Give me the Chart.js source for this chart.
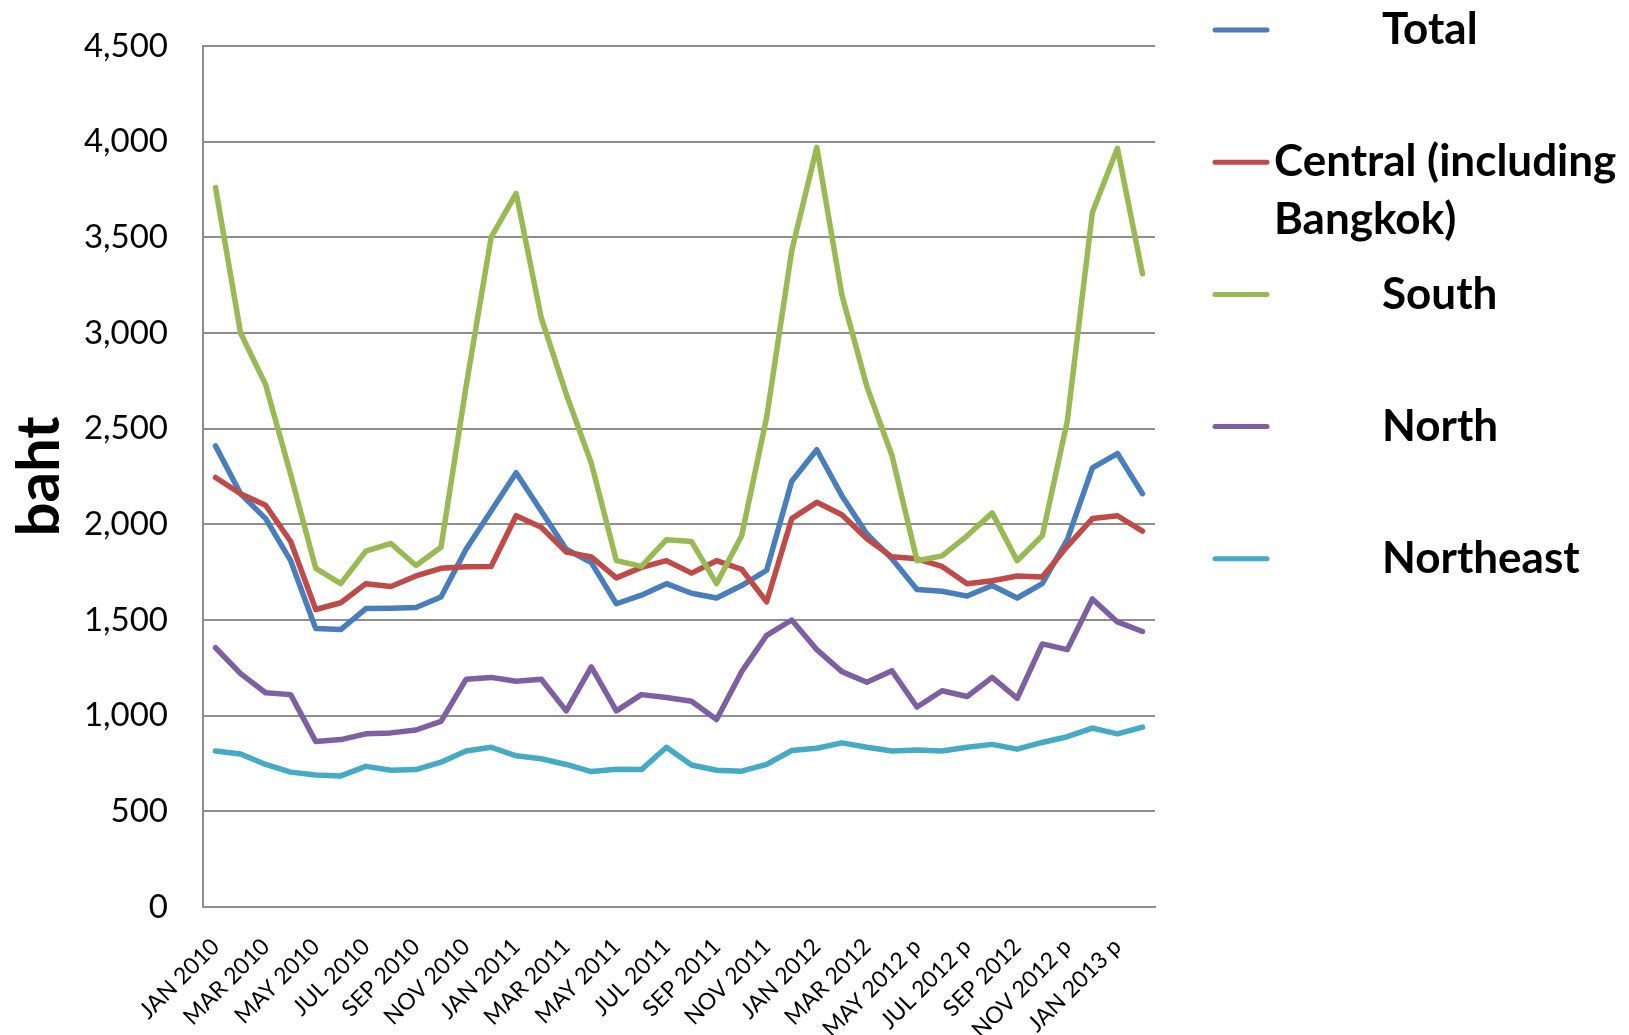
<!DOCTYPE html>
<html>
<head>
<meta charset="utf-8">
<title>Average monthly expenditure by region</title>
<script src="https://cdn.jsdelivr.net/npm/chart.js@4.4.1/dist/chart.umd.min.js"></script>
<style>
  html, body { margin: 0; padding: 0; background: #fff; }
</style>
</head>
<body>
<canvas id="bahtChart" width="1629" height="1035"></canvas>
<script>
const months = [
  'JAN 2010', 'FEB 2010', 'MAR 2010', 'APR 2010', 'MAY 2010', 'JUN 2010',
  'JUL 2010', 'AUG 2010', 'SEP 2010', 'OCT 2010', 'NOV 2010', 'DEC 2010',
  'JAN 2011', 'FEB 2011', 'MAR 2011', 'APR 2011', 'MAY 2011', 'JUN 2011',
  'JUL 2011', 'AUG 2011', 'SEP 2011', 'OCT 2011', 'NOV 2011', 'DEC 2011',
  'JAN 2012', 'FEB 2012', 'MAR 2012', 'APR 2012', 'MAY 2012 p', 'JUN 2012 p',
  'JUL 2012 p', 'AUG 2012 p', 'SEP 2012', 'OCT 2012 p', 'NOV 2012 p', 'DEC 2012 p',
  'JAN 2013 p', 'FEB 2013 p'
];

const total = [
  2410, 2160, 2030, 1810, 1455, 1450, 1560, 1562, 1565, 1620, 1870, 2070,
  2270, 2070, 1870, 1800, 1585, 1630, 1690, 1640, 1615, 1680, 1760, 2225,
  2390, 2150, 1950, 1820, 1660, 1650, 1625, 1680, 1615, 1690, 1920, 2295,
  2370, 2160
];
const central = [
  2245, 2160, 2100, 1910, 1555, 1590, 1690, 1675, 1730, 1770, 1778, 1780,
  2045, 1985, 1855, 1830, 1720, 1775, 1810, 1745, 1810, 1765, 1595, 2030,
  2115, 2050, 1925, 1830, 1820, 1780, 1690, 1705, 1730, 1725, 1885, 2030,
  2045, 1965
];
const south = [
  3760, 3000, 2730, 2260, 1770, 1690, 1860, 1900, 1785, 1880, 2720, 3500,
  3730, 3080, 2680, 2320, 1810, 1780, 1920, 1910, 1690, 1940, 2560, 3430,
  3970, 3200, 2720, 2360, 1810, 1835, 1940, 2060, 1810, 1940, 2540, 3630,
  3965, 3310
];
const north = [
  1355, 1220, 1120, 1110, 865, 875, 905, 910, 925, 970, 1190, 1200,
  1180, 1190, 1025, 1255, 1025, 1110, 1095, 1075, 980, 1230, 1420, 1500,
  1345, 1230, 1175, 1235, 1045, 1130, 1100, 1200, 1090, 1375, 1345, 1610,
  1490, 1440
];
const northeast = [
  815, 800, 745, 705, 690, 685, 735, 715, 718, 757, 815, 835,
  790, 775, 745, 708, 720, 718, 835, 742, 715, 710, 745, 818,
  830, 858, 835, 815, 820, 815, 835, 850, 825, 860, 890, 935,
  905, 940
];

const seriesNames = ['Total', 'Central (including Bangkok)', 'South', 'North', 'Northeast'];
// legend text, broken the way it wraps in the side box
const legendLines = [['Total'], ['Central (including', 'Bangkok)'], ['South'], ['North'], ['Northeast']];
const seriesColors = ['#4a7ebb', '#be4b48', '#98b954', '#7d60a0', '#46aac5'];
const seriesValues = [total, central, south, north, northeast];

const gridGray = '#8e8e8e';

// draws the legend in the blank space right of the plot
const sideLegend = {
  id: 'sideLegend',
  afterDraw(chart) {
    const ctx = chart.ctx;
    ctx.save();
    ctx.font = 'bold 44px Lato';
    ctx.textBaseline = 'middle';
    ctx.fillStyle = '#000';
    ctx.lineCap = 'round';
    chart.data.datasets.forEach((ds, i) => {
      const y = 30 + i * 132.2;
      ctx.strokeStyle = ds.borderColor;
      ctx.lineWidth = 5;
      ctx.beginPath();
      ctx.moveTo(1215, y);
      ctx.lineTo(1267, y);
      ctx.stroke();
      const lines = legendLines[i];
      const x = lines.length > 1 ? 1274 : 1382;
      lines.forEach((t, j) => ctx.fillText(t, x, y + j * 58));
    });
    ctx.restore();
  }
};

const datasets = seriesValues.map((vals, i) => ({
  label: seriesNames[i],
  data: vals,
  borderColor: seriesColors[i],
  backgroundColor: seriesColors[i],
  borderWidth: 5.5,
  pointRadius: 0,
  tension: 0,
  borderJoinStyle: 'round',
  borderCapStyle: 'round',
  order: seriesValues.length - i
}));

const ctx = document.getElementById('bahtChart').getContext('2d');
new Chart(ctx, {
  type: 'line',
  data: { labels: months, datasets: datasets },
  plugins: [sideLegend],
  options: {
    responsive: false,
    animation: false,
    layout: { padding: { left: 0, right: 474, top: 46, bottom: 0 } },
    plugins: {
      legend: { display: false },
      tooltip: { enabled: false }
    },
    scales: {
      x: {
        offset: true,
        grid: { display: false },
        border: { display: true, color: gridGray, width: 2 },
        ticks: {
          autoSkip: false,
          maxRotation: 45,
          minRotation: 45,
          padding: 18,
          color: '#000',
          font: { family: 'Lato', size: 23 },
          callback: (v, i) => (i % 2 === 0 ? months[i] : '')
        },
        afterFit: (scale) => { scale.height = 128; }
      },
      y: {
        min: 0,
        max: 4500,
        grid: { color: gridGray, lineWidth: 2, drawTicks: false },
        border: { display: true, color: gridGray, width: 2 },
        ticks: {
          stepSize: 500,
          padding: 35,
          color: '#000',
          font: { family: 'Lato', size: 33 }
        },
        title: {
          display: true,
          text: 'baht',
          color: '#000',
          font: { family: 'Lato', size: 60, weight: 'bold' },
          padding: { top: 4, bottom: 0 }
        },
        afterFit: (scale) => {
          // tick padding would otherwise push the plot top down
          scale.width = 203;
          scale.paddingTop = 0;
          scale.paddingBottom = 0;
        }
      }
    }
  }
});
</script>
</body>
</html>
